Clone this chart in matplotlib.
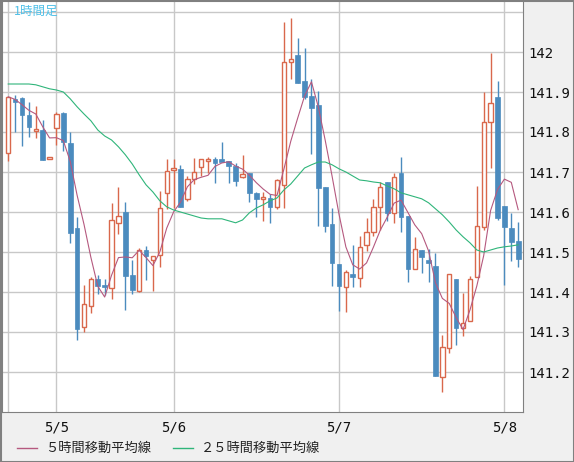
import matplotlib
matplotlib.use("Agg")
import matplotlib.pyplot as plt
import numpy as np
import pandas as pd
from matplotlib.patches import Rectangle

opens = [141.748,141.882,141.885,141.842,141.803,141.805,141.733,141.810,141.848,141.773,
         141.560,141.313,141.365,141.433,141.417,141.410,141.572,141.600,141.443,141.403,
         141.505,141.480,141.493,141.647,141.705,141.707,141.632,141.683,141.712,141.728,
         141.733,141.733,141.728,141.715,141.688,141.698,141.648,141.633,141.635,141.612,
         141.667,141.975,141.993,141.928,141.890,141.868,141.663,141.570,141.470,141.413,
         141.445,141.435,141.518,141.550,141.613,141.675,141.598,141.697,141.590,141.458,
         141.505,141.480,141.465,141.188,141.260,141.433,141.310,141.327,141.438,141.563,
         141.825,141.888,141.615,141.560,141.528]
closes = [141.888,141.875,141.842,141.812,141.808,141.730,141.734,141.845,141.775,141.548,
          141.307,141.370,141.432,141.415,141.413,141.580,141.590,141.440,141.405,141.505,
          141.490,141.490,141.610,141.703,141.708,141.612,141.682,141.700,141.732,141.733,
          141.723,141.725,141.715,141.678,141.695,141.647,141.632,141.635,141.612,141.680,
          141.975,141.982,141.923,141.888,141.860,141.660,141.565,141.473,141.415,141.450,
          141.437,141.512,141.550,141.613,141.663,141.597,141.688,141.588,141.458,141.508,
          141.487,141.472,141.190,141.263,141.445,141.310,141.323,141.433,141.565,141.825,
          141.873,141.585,141.563,141.525,141.483]
highs = [141.888,141.892,141.888,141.875,141.865,141.830,141.734,141.850,141.850,141.800,
         141.588,141.418,141.438,141.443,141.433,141.623,141.663,141.625,141.480,141.510,
         141.515,141.490,141.653,141.733,141.733,141.718,141.690,141.735,141.732,141.738,
         141.738,141.775,141.728,141.722,141.742,141.698,141.650,141.650,141.645,141.682,
         142.075,142.085,142.035,142.010,141.933,141.903,141.663,141.610,141.470,141.455,
         141.518,141.540,141.585,141.633,141.675,141.675,141.698,141.738,141.590,141.538,
         141.505,141.508,141.497,141.293,141.445,141.433,141.398,141.440,141.665,141.900,
         141.998,141.928,141.615,141.598,141.575]
lows = [141.727,141.800,141.765,141.787,141.785,141.730,141.732,141.768,141.752,141.523,
        141.280,141.300,141.348,141.395,141.393,141.383,141.545,141.355,141.395,141.400,
        141.430,141.403,141.463,141.608,141.610,141.612,141.628,141.670,141.690,141.698,
        141.673,141.725,141.673,141.665,141.685,141.625,141.588,141.578,141.573,141.607,
        141.610,141.933,141.923,141.883,141.745,141.565,141.550,141.415,141.352,141.350,
        141.413,141.413,141.503,141.540,141.555,141.578,141.573,141.550,141.425,141.458,
        141.447,141.425,141.190,141.150,141.248,141.267,141.290,141.327,141.438,141.555,
        141.710,141.580,141.418,141.478,141.463]
ma25 = [141.920,141.920,141.920,141.920,141.918,141.913,141.908,141.905,141.900,141.883,
        141.863,141.845,141.828,141.805,141.790,141.780,141.763,141.743,141.720,141.693,
        141.668,141.650,141.628,141.613,141.605,141.600,141.595,141.590,141.585,141.583,
        141.583,141.583,141.578,141.573,141.580,141.598,141.610,141.618,141.628,141.635,
        141.655,141.670,141.690,141.710,141.718,141.725,141.725,141.718,141.708,141.700,
        141.690,141.680,141.678,141.675,141.673,141.665,141.658,141.648,141.643,141.638,
        141.633,141.623,141.608,141.593,141.575,141.555,141.538,141.523,141.505,141.500,
        141.505,141.510,141.513,141.515,141.518]
date_labels = ["5/5", "5/6", "5/7", "5/8"]
date_idx = [7, 24, 48, 72]
yticks = [141.2, 141.3, 141.4, 141.5, 141.6, 141.7, 141.8, 141.9, 142.0]
ytick_labels = ["141.2", "141.3", "141.4", "141.5", "141.6", "141.7", "141.8", "141.9", "142"]

RED = "#d9684c"
BLUE = "#4b8bbe"
PINK = "#b5597f"
GREEN = "#2fb57a"
GRID = "#c8c8c8"

W, H = 574, 462
fig = plt.figure(figsize=(W/100, H/100), dpi=100)
fig.patch.set_facecolor("#f0f0f0")
ax = fig.add_axes([2/W, 50/H, 521/W, 412/H])
ax.set_facecolor("white")

x = np.arange(len(opens))
o = np.array(opens); c = np.array(closes)
up = c >= o
ax.vlines(x, lows, highs, colors=[RED if u else BLUE for u in up], lw=1, zorder=2)
bottom = np.minimum(o, c)
height = np.maximum(np.abs(c - o), 0.004)
ax.bar(x[up], height[up], bottom=bottom[up], width=0.62, facecolor="white",
       edgecolor=RED, linewidth=1, zorder=3)
ax.bar(x[~up], height[~up], bottom=bottom[~up], width=0.68, facecolor=BLUE,
       edgecolor=BLUE, linewidth=0.5, zorder=3)

ma5 = pd.Series(closes).rolling(5, min_periods=1).mean()
ax.plot(x, ma5, color=PINK, lw=0.8, zorder=4)
ax.plot(x, ma25, color=GREEN, lw=0.8, zorder=4)

ax.set_xlim(-0.9, 74.7)
ax.set_ylim(141.1, 142.13)
ax.set_yticks(yticks + [142.1])
ax.set_yticklabels(ytick_labels + [""], fontfamily="DejaVu Sans Mono", fontsize=10, color="#111111")
ax.yaxis.tick_right()
ax.set_xticks(date_idx)
ax.set_xticklabels(date_labels, fontfamily="DejaVu Sans Mono", fontsize=10, color="#111111")
ax.tick_params(length=0, pad=4)
ax.tick_params(axis="x", pad=6)
ax.set_axisbelow(True)
ax.grid(True, color=GRID, lw=1)
ax.axvline(0, color=GRID, lw=1, zorder=0)
for s in ["left", "right", "bottom"]:
    ax.spines[s].set_color("#808080")
ax.spines["top"].set_visible(False)

ax.text(12/521, 1 - 11/412, "1時間足", transform=ax.transAxes, color="#4fc0e8",
        fontsize=9, fontfamily=["Noto Sans CJK JP", "DejaVu Sans"], va="center")

fig.add_artist(plt.Line2D([17/W, 37/W], [1-448/H, 1-448/H], color=PINK, lw=1))
fig.text(45/W, 1-448/H, "５時間移動平均線", fontsize=9.5, va="center",
         fontfamily=["Noto Sans CJK JP", "DejaVu Sans"], color="#222222")
fig.add_artist(plt.Line2D([173/W, 193/W], [1-448/H, 1-448/H], color=GREEN, lw=1))
fig.text(201/W, 1-448/H, "２５時間移動平均線", fontsize=9.5, va="center",
         fontfamily=["Noto Sans CJK JP", "DejaVu Sans"], color="#222222")

fig.add_artist(Rectangle((0.5/W, 0.5/H), 1-1/W, 1-1/H, transform=fig.transFigure,
                         fill=False, edgecolor="#808080", lw=1.5))
fig.savefig("out.png", dpi=100)
